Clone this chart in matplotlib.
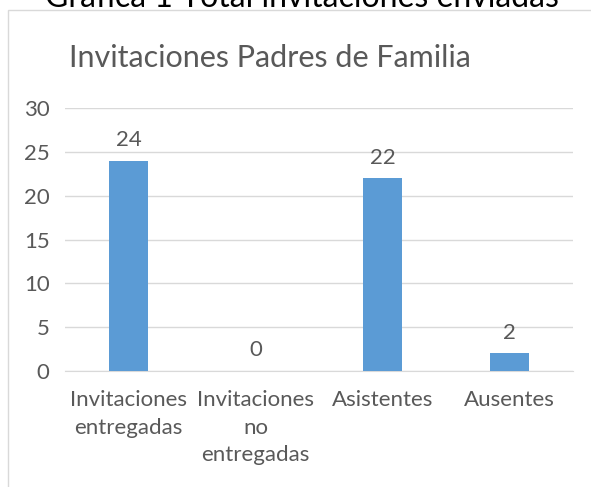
import matplotlib.pyplot as plt
from matplotlib.patches import Rectangle

categorias = ["Invitaciones\nentregadas", "Invitaciones\nno\nentregadas", "Asistentes", "Ausentes"]
valores = [24, 0, 22, 2]
ticks_y = [0, 5, 10, 15, 20, 25, 30]

plt.rcParams['font.family'] = ['Lato', 'DejaVu Sans']

gris = "#595959"
azul = "#5B9BD5"

fig = plt.figure(figsize=(5.91, 4.87), dpi=100)
ax = fig.add_axes([65 / 591, 1 - 371 / 487, 508 / 591, 263 / 487])

x = range(len(valores))
barras = ax.bar(x, valores, width=0.31, color=azul, zorder=3)
for xi, v in zip(x, valores):
    ax.text(xi, v + 1.2, str(v), ha="center", va="bottom", fontsize=16, color=gris)

ax.set_xlim(-0.5, len(valores) - 0.5)
ax.set_ylim(0, 30)
ax.set_yticks(ticks_y)
ax.yaxis.grid(True, color="#D9D9D9", linewidth=1, zorder=0)
ax.set_xticks(list(x))
ax.set_xticklabels(categorias, fontsize=16, color=gris, linespacing=1.45)
ax.tick_params(axis="y", labelsize=16, labelcolor=gris, length=0, pad=11)
ax.tick_params(axis="x", length=0, pad=14)
for lado in ["top", "right", "left"]:
    ax.spines[lado].set_visible(False)
ax.spines["bottom"].set_color("#D9D9D9")

# marco del grafico
fig.patches.append(Rectangle((8 / 591, -0.1), 1.0, 1 - 10 / 487 + 0.1, transform=fig.transFigure,
                             fill=False, edgecolor="#D9D9D9", linewidth=1))

fig.text(270 / 591, 1 - 58 / 487, "Invitaciones Padres de Familia", ha="center", va="center",
         fontsize=22, color=gris)
# titulo cortado arriba
fig.text(302 / 591, 1 - 7 / 487, "Gráfica 1 Total invitaciones enviadas", ha="center", va="baseline",
         fontsize=23, color="black")

fig.savefig("out.png", dpi=100)
